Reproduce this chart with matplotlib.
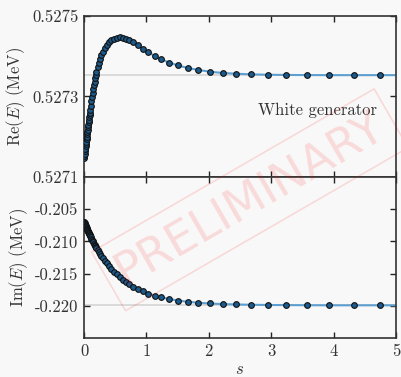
import matplotlib
matplotlib.use("Agg")
import matplotlib.pyplot as plt

plt.rcParams.update({
    "font.family": "serif",
    "font.serif": ["cmr10", "DejaVu Serif"],
    "mathtext.fontset": "cm",
    "axes.unicode_minus": False,
    "axes.formatter.use_mathtext": True,
    "font.size": 12,
})

# flow parameter s and complex energy (MeV)
s_pts = [0.0, 0.005, 0.01, 0.015, 0.02, 0.025, 0.03, 0.035, 0.04, 0.045, 0.05,
         0.055, 0.06, 0.065, 0.07, 0.075, 0.08, 0.085, 0.09, 0.095, 0.10,
         0.11, 0.12, 0.13, 0.14, 0.15, 0.16, 0.17, 0.18, 0.19, 0.20,
         0.22, 0.24, 0.26, 0.28, 0.30, 0.33, 0.365, 0.40, 0.44, 0.48, 0.525,
         0.57, 0.62, 0.67, 0.725, 0.79, 0.86, 0.94, 1.03, 1.13, 1.24, 1.37,
         1.51, 1.66, 1.83, 2.02, 2.22, 2.44, 2.68, 2.95, 3.24, 3.57, 3.93,
         4.32, 4.75]

re_pts = [0.527146, 0.527152, 0.527158, 0.527164, 0.527170, 0.527176, 0.527182,
          0.527188, 0.527194, 0.527200, 0.527206, 0.527212, 0.527218, 0.527224,
          0.527230, 0.527236, 0.527242, 0.527248, 0.527254, 0.527260, 0.527266,
          0.527277, 0.527288, 0.527299, 0.527309, 0.527319, 0.527328, 0.527337,
          0.527345, 0.527353, 0.527360,
          0.527373, 0.527384, 0.527394, 0.527403, 0.527411, 0.527420, 0.527429,
          0.527435, 0.527440, 0.527444, 0.527446, 0.527447, 0.527446, 0.527444,
          0.527440, 0.527435, 0.527428, 0.527419, 0.527410, 0.527401, 0.527392,
          0.527384, 0.527377, 0.527371, 0.527366, 0.5273615, 0.5273585,
          0.5273565, 0.527355, 0.527354, 0.5273535, 0.5273532, 0.527353,
          0.527353, 0.527353]

im_pts = [-0.20694, -0.20706, -0.20718, -0.20730, -0.20742, -0.20754, -0.20766,
          -0.20778, -0.20789, -0.20800, -0.20812, -0.20823, -0.20834, -0.20845,
          -0.20856, -0.20866, -0.20877, -0.20888, -0.20898, -0.20908, -0.20919,
          -0.20939, -0.20959, -0.20978, -0.20997, -0.21016, -0.21034, -0.21052,
          -0.21070, -0.21087, -0.21104,
          -0.21137, -0.21169, -0.21200, -0.21230, -0.21258, -0.21299, -0.21343,
          -0.21385, -0.21429, -0.21471, -0.21513, -0.21553, -0.21592, -0.21629,
          -0.21665, -0.21703, -0.21739, -0.21774, -0.21809, -0.21840, -0.21869,
          -0.21896, -0.21918, -0.21937, -0.21952, -0.21964, -0.21973, -0.21979,
          -0.21984, -0.21987, -0.21989, -0.21991, -0.21992, -0.21992, -0.21992]

# the solid curve runs on to s = 5
s_line = s_pts + [5.0]
re_line = re_pts + [0.527353]
im_line = im_pts + [-0.21992]

re_final = 0.527353
im_final = -0.21992

re_ticks = [0.5275, 0.5273, 0.5271]
re_ticklabels = ["0.5275", "0.5273", "0.5271"]
im_ticks = [-0.205, -0.210, -0.215, -0.220]
im_ticklabels = ["-0.205", "-0.210", "-0.215", "-0.220"]
s_ticks = [0, 1, 2, 3, 4, 5]

bg = "#f8f8f8"
fig = plt.figure(figsize=(4.01, 3.77), dpi=100, facecolor=bg)
ax1 = fig.add_axes([0.2095, 0.5305, 0.778, 0.4271])
ax2 = fig.add_axes([0.2095, 0.1034, 0.778, 0.4271])

for ax, y_line, y_pts, y_fin in [(ax1, re_line, re_pts, re_final),
                                 (ax2, im_line, im_pts, im_final)]:
    ax.set_facecolor(bg)
    ax.axhline(y_fin, color="#d4d4d4", lw=1.2, zorder=1)
    ax.plot(s_line, y_line, color="#5d9fd0", lw=1.5, zorder=2)
    ax.plot(s_pts, y_pts, "o", ms=4.1, mfc="#1d5a8c", mec="#111111",
            mew=0.8, zorder=3)
    ax.set_xlim(0, 5)
    ax.set_xticks(s_ticks)
    ax.tick_params(direction="in", length=4, width=1, top=True, right=True,
                   colors="#222222", labelcolor="#333333", pad=4)
    for sp in ax.spines.values():
        sp.set_color("#333333")
        sp.set_linewidth(1.2)

ax1.set_ylim(0.5271, 0.5275)
ax1.set_yticks(re_ticks)
ax1.set_yticklabels(re_ticklabels)
ax1.tick_params(labelbottom=False)
ax1.set_ylabel(r"Re$(E)$ (MeV)", color="#333333")
ax1.text(0.75, 0.415, "White generator", transform=ax1.transAxes,
         ha="center", va="center", color="#333333", fontsize=12)

ax2.set_ylim(-0.225, -0.200)
ax2.set_yticks(im_ticks)
ax2.set_yticklabels(im_ticklabels)
ax2.set_xticklabels([str(t) for t in s_ticks])
ax2.set_ylabel(r"Im$(E)$ (MeV)", color="#333333")
ax2.set_xlabel(r"$s$", color="#333333", labelpad=2)

fig.align_ylabels([ax1, ax2])

fig.text(0.623, 0.47, "PRELIMINARY", rotation=30, ha="center", va="center",
         fontsize=33, family="DejaVu Sans", color=(1, 0, 0, 0.12),
         bbox=dict(boxstyle="square,pad=0.25", fc="none",
                   ec=(1, 0, 0, 0.12), lw=1.2))

fig.savefig("out.png", dpi=100, facecolor=bg)
